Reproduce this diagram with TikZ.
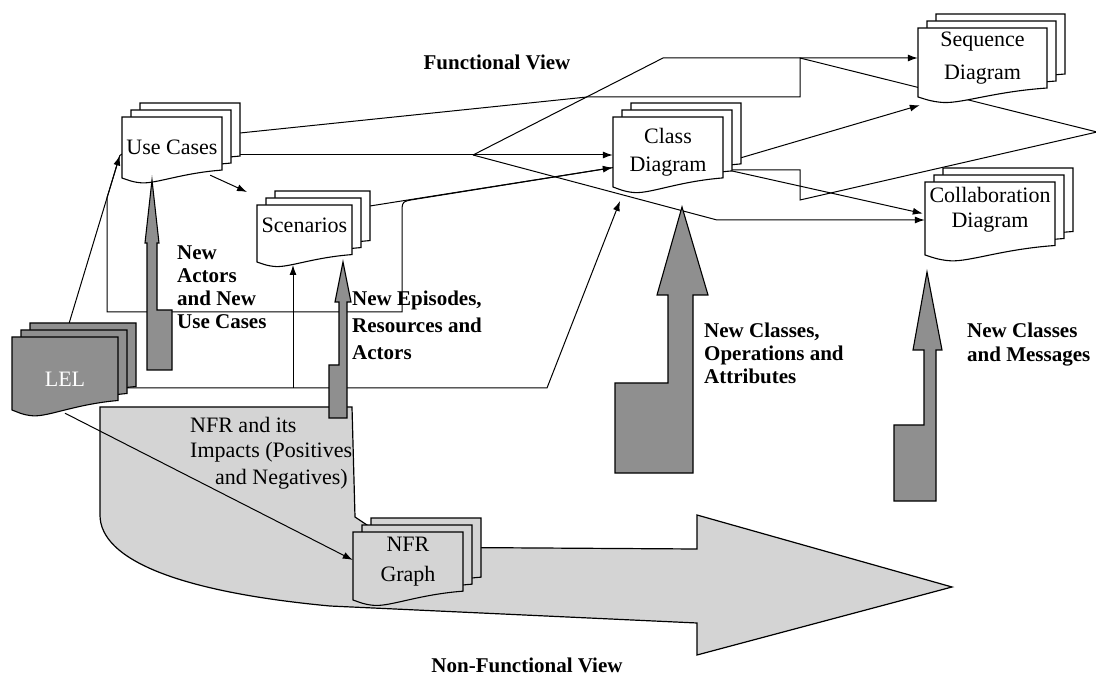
\documentclass[tikz,border=0pt]{standalone}
\usepackage{fontspec}
\setmainfont{Liberation Serif}
\usetikzlibrary{arrows.meta,calc}
\definecolor{darkfill}{gray}{0.56}
\definecolor{lightfill}{gray}{0.83}
\pgfdeclarelayer{bg}
\pgfdeclarelayer{mid}
\pgfsetlayers{bg,mid,main}
\newcommand\docshape[5]{%
  \pgfmathsetmacro\mdXa{#1}\pgfmathsetmacro\mdYa{#2}%
  \pgfmathsetmacro\mdXb{#3}\pgfmathsetmacro\mdYb{#4}%
  \pgfmathsetmacro\mdW{\mdXb-\mdXa}\pgfmathsetmacro\mdH{\mdYb-\mdYa}%
  \filldraw[fill=#5,docline] (\mdXa,\mdYa) -- (\mdXb,\mdYa) -- (\mdXb,{\mdYb-0.13*\mdH})
   .. controls ({\mdXa+0.6*\mdW},{\mdYb-0.08*\mdH}) and ({\mdXa+0.35*\mdW},{\mdYb+0.09*\mdH}) .. ({\mdXa+0.2*\mdW},{\mdYb+0.08*\mdH})
   .. controls ({\mdXa+0.1*\mdW},{\mdYb+0.07*\mdH}) and ({\mdXa+0.04*\mdW},{\mdYb+0.02*\mdH}) .. (\mdXa,\mdYb) -- cycle;}
\newcommand\mdoc[5]{%
  \docshape{#1+18}{#2-14}{#3+18}{#4-14}{#5}%
  \docshape{#1+9}{#2-7}{#3+9}{#4-7}{#5}%
  \docshape{#1}{#2}{#3}{#4}{#5}}
\begin{document}
\begin{tikzpicture}[x=1pt,y=-1pt,line join=round,
  conn/.style={line width=1pt,-{Latex[length=10pt,width=7pt]}},
  plain/.style={line width=1pt},
  docline/.style={line width=1.1pt},
  docnode/.style={inner sep=0pt,font=\fontsize{22}{26}\selectfont,align=center},
  lbl/.style={font=\fontsize{21}{23}\selectfont\bfseries,align=left,anchor=west,inner sep=0pt},
  title/.style={font=\fontsize{21}{24}\selectfont\bfseries,inner sep=0pt},
  nfrtxt/.style={font=\fontsize{22}{26}\selectfont,anchor=west,inner sep=0pt},
  blockarrow/.style={fill=darkfill,draw=black,line width=1.1pt},
  bigarrow/.style={fill=lightfill,draw=black,line width=1.2pt}]
\useasboundingbox (0,0) rectangle (1096,676);

% ---------- document nodes (text) ----------
\node[docnode,minimum width=100,minimum height=61] (uc) at (172,147.5) {Use Cases};
\node[docnode,minimum width=95,minimum height=57] (sc) at (304.5,233.5) {\raisebox{8pt}[\height][\depth]{Scenarios}};
\node[docnode,minimum width=110,minimum height=70,font=\fontsize{22}{28}\selectfont] (cd) at (668,152) {Class\\Diagram};
\node[docnode,minimum width=129,minimum height=69,font=\fontsize{22}{33}\selectfont] (seq) at (982.5,62.5) {\raisebox{4pt}[\height][\depth]{Sequence}\\\raisebox{4pt}[\height][\depth]{Diagram}};
\node[docnode,minimum width=130,minimum height=73,font=\fontsize{22}{25}\selectfont] (col) at (990,218.5) {\raisebox{9pt}[\height][\depth]{Collaboration}\\\raisebox{9pt}[\height][\depth]{Diagram}};
\node[docnode,minimum width=106,minimum height=73,text=white] (lel) at (65,373.5) {\raisebox{-6pt}[\height][\depth]{LEL}};
\node[docnode,minimum width=110,minimum height=68,font=\fontsize{22}{30}\selectfont] (nfr) at (408,566) {\raisebox{4pt}[\height][\depth]{NFR}\\\raisebox{4pt}[\height][\depth]{Graph}};

% ---------- helper coordinates ----------
\coordinate (tl) at (402,312);
\coordinate (uctip) at ($(uc.west)+(-2,8)$);
\coordinate (fa) at ($(lel.north)!0.77!(uctip)$);
\coordinate (fk) at (473,155);
\coordinate (fu) at (663,58);
\coordinate (fl) at (717,220);
\coordinate (scin) at (247,192);
\coordinate (br1) at (293,388);
\coordinate (scin2) at (293,265);
\coordinate (l2) at (547,388);
\coordinate (cdin) at (620,201);

\begin{pgfonlayer}{bg}
\fill[white] (0,0) rectangle (1096,676);
% Non-functional view arrow
\draw[bigarrow] (100,407) -- (352,407) -- (355,517) -- (370,527) -- (378,547) -- (697,549)
  -- (697,515) -- (952,587) -- (697,655) -- (697,623) -- (330,606)
  .. controls (180,592) and (100,560) .. (100,515) -- cycle;
% Functional view arrow (outline)
\draw[plain] (fa |- tl) -- (fa) -- (uctip) -- (160,130) -- (240,133) -- (587,97) -- (800,97)
  -- (800,58) -- (1097,132) -- (800,200) -- (800,170) -- (700,170) -- (613,167.6)
  -- (415,199.3) .. controls (402,201.4) .. (402,214) -- (tl) -- cycle;
% connectors
\draw[conn] (lel.north) -- (uctip);
\draw[conn] ($(uc.south east)+(-12,-3)$) -- (scin);
\draw[conn] (uc.east |- fk) -- (cd.west |- fk);
\draw[conn] (fk) -- (fu) -- (seq.west |- fu);
\draw[conn] (fk) -- (fl) -- (col.west |- fl);
\draw[conn] ($(sc.north east)+(0,4)$) -- ($(cd.west)+(0,15.6)$);
\draw[conn] (br1) -- (scin2);
\draw[conn] (lel.east |- l2) -- (l2) -- (cdin);
\draw[conn] ($(lel.south)+(0,3)$) -- ($(nfr.west)+(0,-6)$);
\draw[conn] ($(cd.east)+(0,11)$) -- ($(seq.south west)+(2,8)$);
\draw[conn] ($(cd.east)+(0,17)$) -- ($(col.west)+(-2,-5)$);
\end{pgfonlayer}

\begin{pgfonlayer}{mid}
\mdoc{122}{117}{222}{178}{white}
\mdoc{257}{205}{352}{262}{white}
\mdoc{613}{117}{723}{187}{white}
\mdoc{918}{28}{1047}{97}{white}
\mdoc{925}{182}{1055}{255}{white}
\mdoc{12}{337}{118}{410}{darkfill}
\mdoc{353}{532}{463}{600}{lightfill}
% step arrows
\draw[blockarrow] (147,370) -- (147,243) -- (145,243) -- (152,180) -- (159,243) -- (157,243)
  -- (157,310) -- (172,310) -- (172,370) -- cycle;
\draw[blockarrow] (329,418) -- (329,365) -- (339,365) -- (339,302) -- (335,302) -- (343,262)
  -- (351,302) -- (347,302) -- (347,418) -- cycle;
\draw[blockarrow] (615,473) -- (615,383) -- (668,383) -- (668,295) -- (657,295) -- (682,207)
  -- (708,295) -- (693,295) -- (693,473) -- cycle;
\draw[blockarrow] (894,501) -- (894,425) -- (924,425) -- (924,350) -- (913,350) -- (927,272)
  -- (942,350) -- (936,350) -- (936,501) -- cycle;
\end{pgfonlayer}

% ---------- labels ----------
\node[title] (fv) at (497,62) {Functional View};
\node[title] (nfv) at (527,665) {Non-Functional View};
\node[lbl] (la) at (177,287.5) {New\\Actors\\and New\\Use Cases};
\node[lbl,font=\fontsize{21}{27}\selectfont\bfseries] (lb) at (352,325) {New Episodes,\\Resources and\\Actors};
\node[lbl] (lc) at (704,353) {New Classes,\\Operations and\\Attributes};
\node[lbl,font=\fontsize{21}{24}\selectfont\bfseries] (ld) at (967,345) {New Classes\\and Messages};
\node[nfrtxt] (n1) at (190,425) {NFR and its};
\node[nfrtxt] (n2) at (190,452) {Impacts (Positives};
\node[nfrtxt] (n3) at (215,479) {and Negatives)};
\end{tikzpicture}
\end{document}
